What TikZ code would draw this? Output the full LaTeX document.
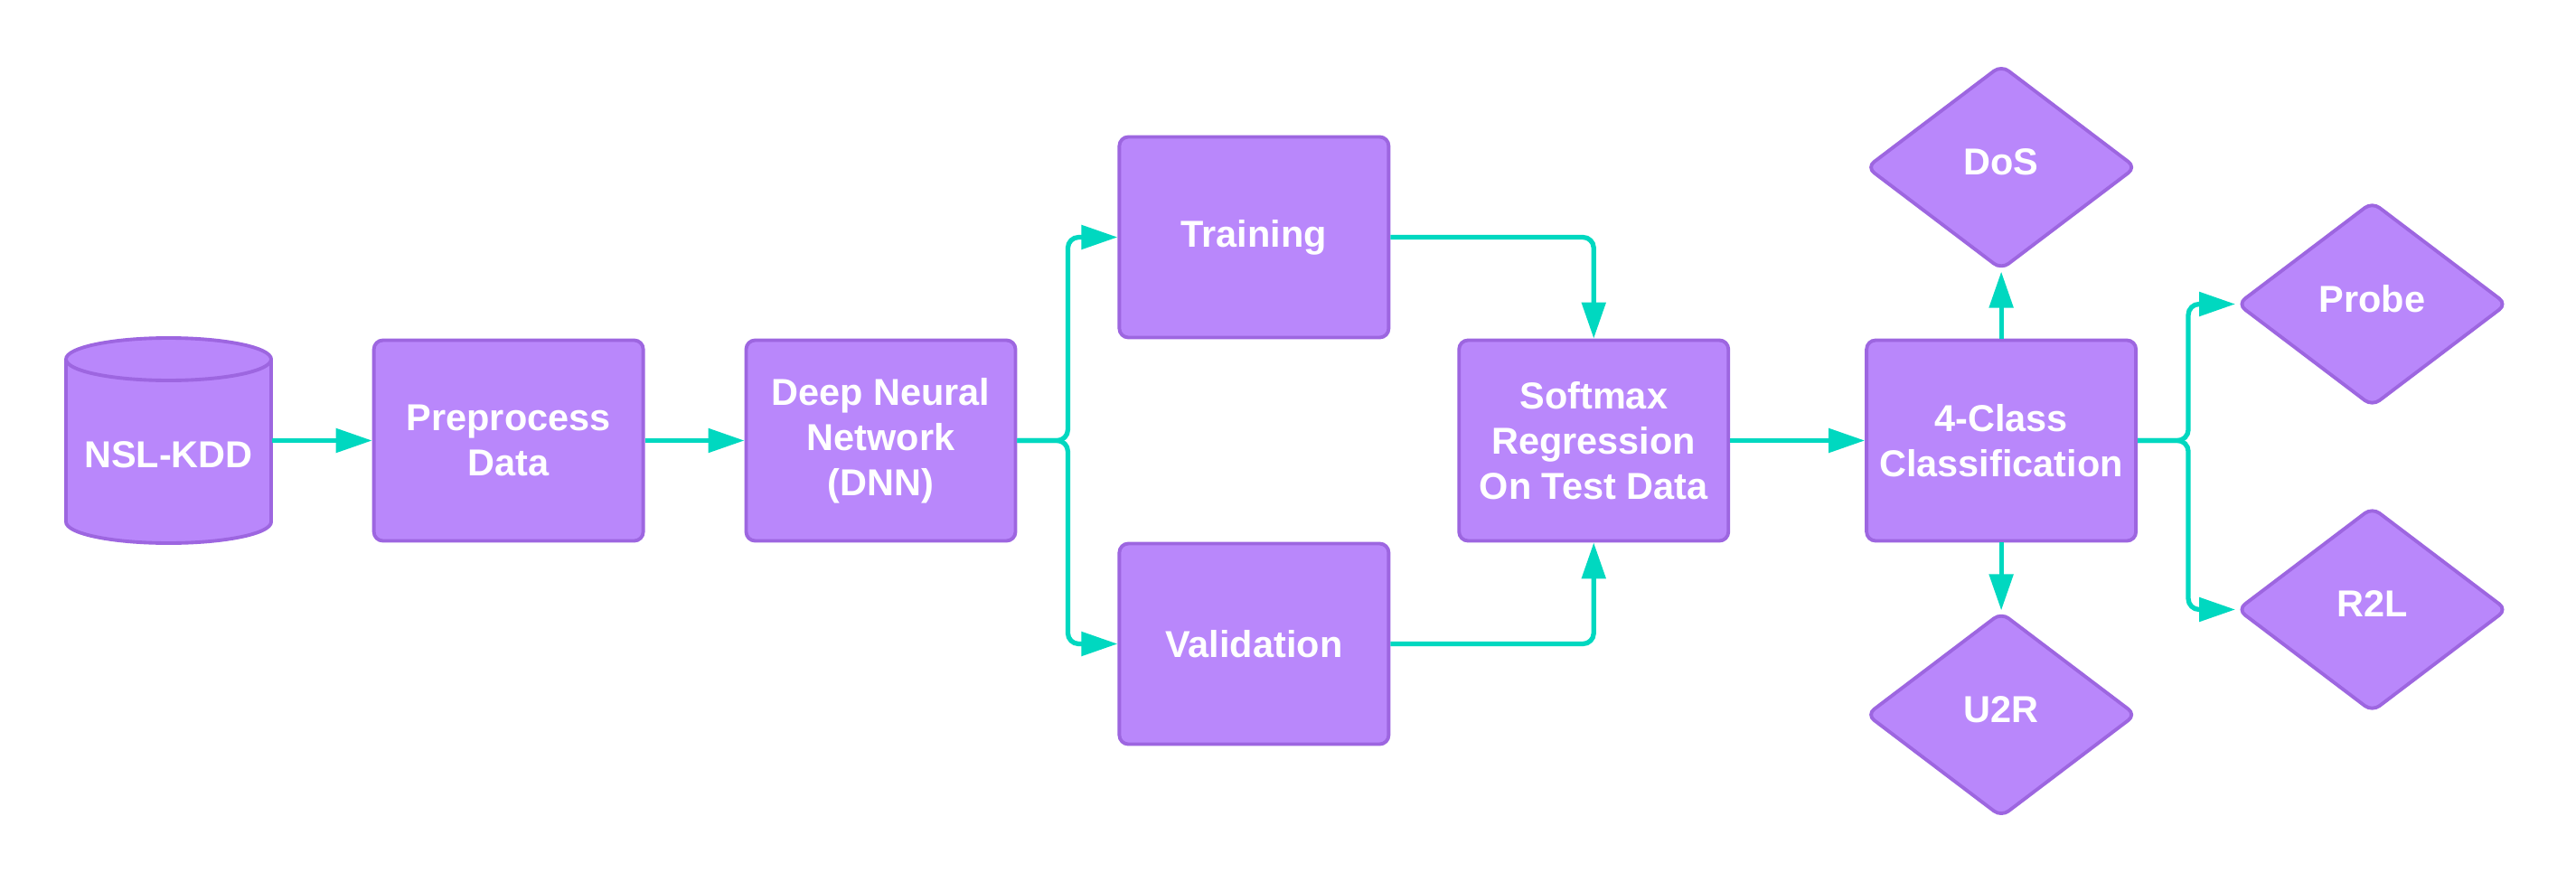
\documentclass[tikz,border=0pt]{standalone}
\usepackage{fontspec}
\setmainfont{Liberation Sans}
\usepackage{tikz}
\usetikzlibrary{arrows.meta, positioning, shapes.geometric}
\definecolor{boxpurple}{HTML}{B987FB}
\definecolor{edgepurple}{HTML}{9D66E0}
\definecolor{flowteal}{HTML}{00D8C0}

\begin{document}
\begin{tikzpicture}[
    font=\fontsize{11.8}{14.2}\selectfont\bfseries,
    box/.style={draw=edgepurple, line width=1.1pt, rounded corners=1mm, fill=boxpurple, text=white, minimum width=2.98cm, minimum height=2.22cm, align=center, inner sep=2pt},
    decision/.style={diamond, draw=edgepurple, line width=1.1pt, rounded corners=1mm, fill=boxpurple, text=white, minimum width=2.99cm, minimum height=2.27cm, inner sep=0pt, text depth=1.2mm},
    cyl/.style={draw=edgepurple, line width=1.1pt, fill=boxpurple},
    dbtext/.style={text=white, minimum width=2.27cm, minimum height=2.27cm, inner sep=0pt, text height=0.6cm, text depth=0pt},
    arrow/.style={-{Triangle[length=4mm, width=2.6mm]}, draw=flowteal, line width=1.5pt, rounded corners=1.2mm}
]
    \useasboundingbox (0,0) rectangle (28.5,9.75);
    \coordinate (db) at (1.865,4.875);
    \path[cyl] ([shift={(-1.135,0.9)}]db) -- ++(0,-1.8) arc[start angle=180, end angle=360, x radius=1.135, y radius=0.235] -- ++(0,1.8) arc[start angle=0, end angle=180, x radius=1.135, y radius=0.235] -- cycle;
    \draw[cyl, fill=none] ([shift={(1.135,0.9)}]db) arc[start angle=0, end angle=-180, x radius=1.135, y radius=0.235];

    \node[dbtext] (nsl) at (db) {NSL-KDD};
    \node[box, right=1.11cm of nsl] (prep) {Preprocess\\Data};
    \node[box, right=1.1cm of prep] (dnn) {Deep Neural\\Network\\(DNN)};
    \node[box, right=1.11cm of dnn, yshift=2.25cm] (train) {Training};
    \node[box, right=1.11cm of dnn, yshift=-2.25cm] (valid) {Validation};
    \node[box, right=0.74cm of train, yshift=-2.25cm] (softmax) {Softmax\\Regression\\On Test Data};
    \node[box, right=1.49cm of softmax] (classify) {4-Class\\Classification};
    \node[decision, above=0.74cm of classify] (dos) {DoS};
    \node[decision, below=0.75cm of classify] (u2r) {U2R};
    \node[decision, right=1.08cm of classify, yshift=1.51cm] (probe) {Probe};
    \node[decision, right=1.08cm of classify, yshift=-1.87cm] (r2l) {R2L};

    \draw[arrow] (nsl.east) -- (prep.west);
    \draw[arrow] (prep) -- (dnn);
    \draw[arrow] (dnn.east) -- ++(0.56,0) |- (train.west);
    \draw[arrow] (dnn.east) -- ++(0.56,0) |- (valid.west);
    \draw[arrow] (train.east) -| (softmax.north);
    \draw[arrow] (valid.east) -| (softmax.south);
    \draw[arrow] (softmax) -- (classify);
    \draw[arrow] (classify) -- (dos);
    \draw[arrow] (classify) -- (u2r);
    \draw[arrow] (classify.east) -- ++(0.56,0) |- (probe.west);
    \draw[arrow] (classify.east) -- ++(0.56,0) |- (r2l.west);
\end{tikzpicture}
\end{document}
